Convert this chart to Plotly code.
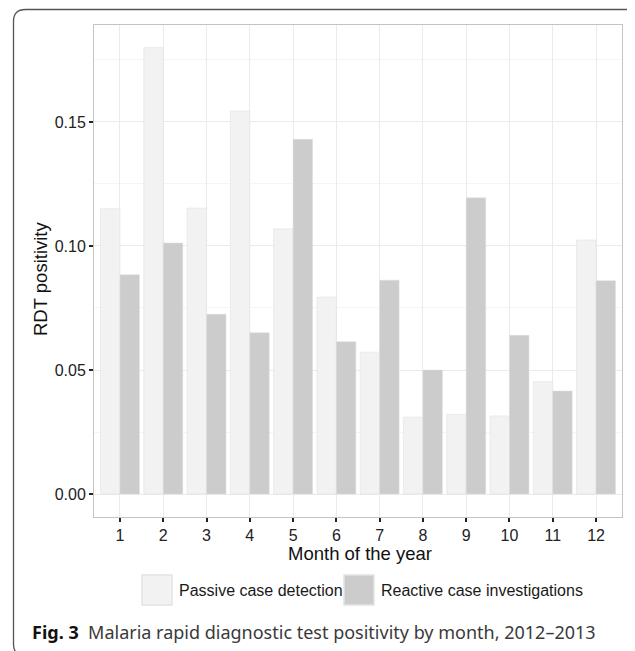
import plotly.graph_objects as go

months = list(range(1, 13))
month_labels = [str(m) for m in months]
passive = [0.115, 0.180, 0.1153, 0.1544, 0.1069, 0.0794, 0.0572, 0.0310, 0.0321, 0.0315, 0.0453, 0.1024]
reactive = [0.0884, 0.1012, 0.0725, 0.0650, 0.1430, 0.0614, 0.0862, 0.0500, 0.1194, 0.0640, 0.0415, 0.0860]
series_names = ["Passive case detection", "Reactive case investigations"]
y_ticks = [0.0, 0.05, 0.10, 0.15]

# page body has an 8px margin; shift everything to compensate
OFF = 8
W, H = 635 - OFF, 651 - OFF
# plot area in reference pixel coordinates
X0, X1, Y0, Y1 = 94, 622, 25, 517
L, R, T, B = X0 - OFF, W - (X1 - OFF), Y0 - OFF, H - (Y1 - OFF)
PW, PH = X1 - X0, Y1 - Y0

def px(x):
    return (x - X0) / PW

def py(y):
    return (Y1 - y) / PH

fill_p = "#F2F2F2"
fill_r = "#CCCCCC"
edge = "#DEDEDE"
font_main = "Liberation Sans, Arial, sans-serif"

fig = go.Figure()
fig.add_trace(go.Bar(x=months, y=passive, name=series_names[0],
                     marker=dict(color=fill_p, line=dict(color=edge, width=0.5)),
                     showlegend=False))
fig.add_trace(go.Bar(x=months, y=reactive, name=series_names[1],
                     marker=dict(color=fill_r, line=dict(color=edge, width=0.5)),
                     showlegend=False))

shapes = []
annotations = []

# outer rounded frame
l, t, r_, b, rad = 13.5, 9.5, 641, 656, 12
path = (f"M {px(l)},{py(t+rad)} Q {px(l)},{py(t)} {px(l+rad)},{py(t)} "
        f"L {px(r_-rad)},{py(t)} Q {px(r_)},{py(t)} {px(r_)},{py(t+rad)} "
        f"L {px(r_)},{py(b-rad)} Q {px(r_)},{py(b)} {px(r_-rad)},{py(b)} "
        f"L {px(l+rad)},{py(b)} Q {px(l)},{py(b)} {px(l)},{py(b-rad)} Z")
shapes.append(dict(type="path", xref="paper", yref="paper", path=path,
                   line=dict(color="#555555", width=1.3), layer="above"))

# legend keys
keys = [(142, fill_p, series_names[0], 177), (344, fill_r, series_names[1], 379)]
for kx, col, name, tx in keys:
    shapes.append(dict(type="rect", xref="paper", yref="paper",
                       x0=px(kx), x1=px(kx + 30), y0=py(605), y1=py(575),
                       fillcolor=col, line=dict(color="#E3E3E3", width=1.5)))
    annotations.append(dict(x=px(tx), y=py(590), xref="paper", yref="paper",
                            text=name, showarrow=False, xanchor="left", yanchor="middle",
                            font=dict(family=font_main, size=16, color="#1a1a1a")))

# axis titles
annotations.append(dict(x=px(360), y=py(553), xref="paper", yref="paper",
                        text="Month of the year", showarrow=False,
                        xanchor="center", yanchor="middle",
                        font=dict(family=font_main, size=18.5, color="#111111")))
annotations.append(dict(x=px(40), y=py(279), xref="paper", yref="paper",
                        text="RDT positivity", showarrow=False, textangle=-90,
                        xanchor="center", yanchor="middle",
                        font=dict(family=font_main, size=18.5, color="#111111")))

# caption
annotations.append(dict(x=px(30), y=py(632), xref="paper", yref="paper",
                        text="<b>Fig. 3</b>  <span style='color:#3a3a3a'>Malaria rapid diagnostic test positivity by month, 2012–2013</span>",
                        showarrow=False, xanchor="left", yanchor="middle",
                        font=dict(family="Noto Sans, Open Sans, sans-serif", size=18, color="#111111")))

fig.update_layout(
    width=W, height=H,
    margin=dict(l=L, r=R, t=T, b=B, pad=0),
    paper_bgcolor="white", plot_bgcolor="white",
    barmode="group", bargap=0.1, bargroupgap=0,
    shapes=shapes, annotations=annotations,
    showlegend=False,
)
fig.update_xaxes(
    range=[0.4, 12.6], tickmode="array", tickvals=months, ticktext=month_labels,
    showgrid=True, gridcolor="#EBEBEB", gridwidth=1,
    showline=True, mirror=True, linecolor="#C4C4C4", linewidth=1,
    ticks="outside", ticklen=4, tickwidth=1.5, tickcolor="#222222",
    tickfont=dict(family=font_main, size=16, color="#222222"),
    zeroline=False, fixedrange=True,
)
fig.update_yaxes(
    range=[-0.00927, 0.1891], tickmode="array", tickvals=y_ticks,
    ticktext=[f"{v:.2f}" for v in y_ticks],
    showgrid=True, gridcolor="#EBEBEB", gridwidth=1,
    minor=dict(tickmode="linear", tick0=0.025, dtick=0.05, showgrid=True, gridcolor="#F5F5F5", ticks=""),
    showline=True, mirror=True, linecolor="#C4C4C4", linewidth=1,
    ticks="outside", ticklen=4, tickwidth=1.5, tickcolor="#222222",
    tickfont=dict(family=font_main, size=16, color="#222222"),
    zeroline=False, fixedrange=True,
)

fig.write_html("out.html")
